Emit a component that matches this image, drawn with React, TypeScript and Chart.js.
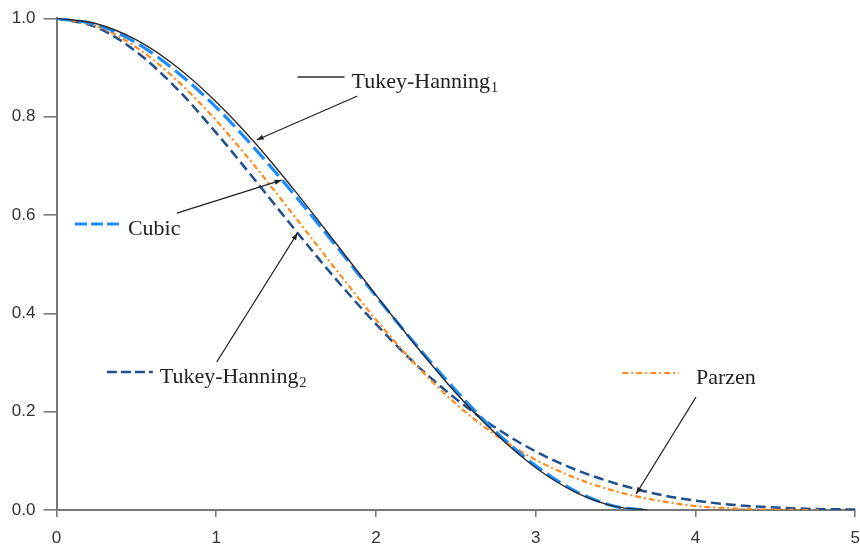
import { useEffect, useRef } from "react";
import { Chart, registerables } from "chart.js";

Chart.register(...registerables);

// ---- data ----
const xTH1 = [0, 0.25, 0.5, 0.75, 1, 1.25, 1.5, 1.75, 2, 2.25, 2.5, 2.75, 3, 3.25, 3.5, 3.7];
const yTH1 = [1, 0.989, 0.956, 0.902, 0.83, 0.744, 0.646, 0.542, 0.437, 0.334, 0.238, 0.155, 0.086, 0.036, 0.007, 0];

const xCubic = [0, 0.25, 0.5, 0.75, 1, 1.25, 1.5, 1.75, 2, 2.25, 2.5, 2.75, 3, 3.25, 3.5, 3.68];
const yCubic = [1, 0.987, 0.95, 0.892, 0.819, 0.732, 0.637, 0.537, 0.435, 0.336, 0.243, 0.159, 0.09, 0.038, 0.007, 0];

const xParzen = [0, 0.25, 0.5, 0.75, 1, 1.25, 1.5, 1.75, 2, 2.25, 2.5, 2.75, 3, 3.25, 3.5, 3.75, 4, 4.25, 4.5, 4.77];
const yParzen = [1, 0.984, 0.941, 0.875, 0.792, 0.696, 0.593, 0.489, 0.387, 0.295, 0.216, 0.152, 0.102, 0.065, 0.038, 0.02, 0.008, 0.003, 0.0004, 0];

const xTH2 = [0, 0.25, 0.5, 0.75, 1, 1.25, 1.5, 1.75, 2, 2.25, 2.5, 2.75, 3, 3.25, 3.5, 3.75, 4, 4.25, 4.5, 4.75, 5];
const yTH2 = [1, 0.982, 0.932, 0.858, 0.767, 0.668, 0.567, 0.469, 0.378, 0.296, 0.226, 0.167, 0.119, 0.082, 0.054, 0.033, 0.019, 0.01, 0.005, 0.002, 0.001];

const xTicks = [0, 1, 2, 3, 4, 5];
const yTicks = [0, 0.2, 0.4, 0.6, 0.8, 1.0];

const seriesNames = ["Tukey-Hanning", "Cubic", "Parzen", "Tukey-Hanning"];
const seriesSubs = ["1", "", "", "2"];

const COLORS = {
  th1: "#2b2b2b",
  cubic: "#1a8cff",
  parzen: "#ff8a1e",
  th2: "#1f4f8f",
};

const zip = (xs: number[], ys: number[]) => xs.map((x, i) => ({ x, y: ys[i] }));

type Ann = {
  name: string;
  sub: string;
  color: string;
  dash: number[];
  width: number;
  sx0: number;
  sx1: number;
  sy: number;
  tx: number;
  ty: number;
  ax0: number;
  ay0: number;
  ax1: number;
  ay1: number;
};

// annotation placement in data coordinates
const annotations: Ann[] = [
  { name: seriesNames[0], sub: seriesSubs[0], color: COLORS.th1, dash: [], width: 1.4,
    sx0: 1.509, sx1: 1.803, sy: 0.8806, tx: 1.847, ty: 0.858,
    ax0: 1.884, ay0: 0.842, ax1: 1.253, ay1: 0.7525 },
  { name: seriesNames[1], sub: seriesSubs[1], color: COLORS.cubic, dash: [12, 4], width: 3,
    sx0: 0.1156, sx1: 0.409, sy: 0.5817, tx: 0.447, ty: 0.559,
    ax0: 0.753, ay0: 0.604, ax1: 1.409, ay1: 0.671 },
  { name: seriesNames[2], sub: seriesSubs[2], color: COLORS.parzen, dash: [6, 3, 2, 3], width: 2.2,
    sx0: 3.541, sx1: 3.897, sy: 0.2786, tx: 4.003, ty: 0.256,
    ax0: 4.003, ay0: 0.2298, ax1: 3.628, ay1: 0.0325 },
  { name: seriesNames[3], sub: seriesSubs[3], color: COLORS.th2, dash: [10, 4], width: 2.5,
    sx0: 0.3156, sx1: 0.603, sy: 0.2807, tx: 0.647, ty: 0.258,
    ax0: 1.003, ay0: 0.301, ax1: 1.509, ay1: 0.5634 },
];

const SERIF = '"Liberation Serif", "Times New Roman", serif';
const SANS = '"Liberation Sans", Arial, sans-serif';

const annotationPlugin = {
  id: "kernelAnnotations",
  afterDatasetsDraw(chart: any) {
    const ctx = chart.ctx as CanvasRenderingContext2D;
    const xs = chart.scales.x;
    const ys = chart.scales.y;
    ctx.save();
    for (const a of annotations) {
      // legend sample line
      ctx.beginPath();
      ctx.setLineDash(a.dash);
      ctx.strokeStyle = a.color;
      ctx.lineWidth = a.width;
      ctx.moveTo(xs.getPixelForValue(a.sx0), ys.getPixelForValue(a.sy));
      ctx.lineTo(xs.getPixelForValue(a.sx1), ys.getPixelForValue(a.sy));
      ctx.stroke();
      ctx.setLineDash([]);

      // label text
      const tx = xs.getPixelForValue(a.tx);
      const ty = ys.getPixelForValue(a.ty);
      ctx.fillStyle = "#222";
      ctx.textBaseline = "alphabetic";
      ctx.textAlign = "left";
      ctx.font = `22px ${SERIF}`;
      ctx.fillText(a.name, tx, ty);
      if (a.sub) {
        const w = ctx.measureText(a.name).width;
        ctx.font = `14px ${SERIF}`;
        ctx.fillText(a.sub, tx + w + 1, ty + 4);
      }

      // arrow
      const x0 = xs.getPixelForValue(a.ax0);
      const y0 = ys.getPixelForValue(a.ay0);
      const x1 = xs.getPixelForValue(a.ax1);
      const y1 = ys.getPixelForValue(a.ay1);
      ctx.strokeStyle = "#222";
      ctx.lineWidth = 1.3;
      ctx.beginPath();
      ctx.moveTo(x0, y0);
      ctx.lineTo(x1, y1);
      ctx.stroke();
      const ang = Math.atan2(y1 - y0, x1 - x0);
      const len = 7;
      const hw = 2.6;
      ctx.fillStyle = "#222";
      ctx.beginPath();
      ctx.moveTo(x1, y1);
      ctx.lineTo(x1 - len * Math.cos(ang) + hw * Math.sin(ang), y1 - len * Math.sin(ang) - hw * Math.cos(ang));
      ctx.lineTo(x1 - len * Math.cos(ang) - hw * Math.sin(ang), y1 - len * Math.sin(ang) + hw * Math.cos(ang));
      ctx.closePath();
      ctx.fill();
    }
    ctx.restore();
  },
};

export default function App() {
  const ref = useRef<HTMLCanvasElement | null>(null);

  useEffect(() => {
    if (!ref.current) return;
    const axisColor = "#777";
    const chart = new Chart(ref.current, {
      type: "line",
      data: {
        datasets: [
          { label: "Tukey-Hanning1", data: zip(xTH1, yTH1), borderColor: COLORS.th1, borderWidth: 1.4, order: 0 },
          { label: "Cubic", data: zip(xCubic, yCubic), borderColor: COLORS.cubic, borderWidth: 3.2, borderDash: [16, 6], order: 1 },
          { label: "Parzen", data: zip(xParzen, yParzen), borderColor: COLORS.parzen, borderWidth: 2.2, borderDash: [6, 3, 2, 3], order: 2 },
          { label: "Tukey-Hanning2", data: zip(xTH2, yTH2), borderColor: COLORS.th2, borderWidth: 2.5, borderDash: [10, 5], order: 3 },
        ] as any,
      },
      options: {
        responsive: false,
        animation: false,
        devicePixelRatio: 1,
        layout: { padding: { left: 0, right: 3.5, top: 18.3, bottom: 0 } },
        elements: {
          point: { radius: 0 },
          line: { cubicInterpolationMode: "monotone", fill: false },
        },
        plugins: { legend: { display: false }, tooltip: { enabled: false } },
        scales: {
          x: {
            type: "linear",
            min: 0,
            max: 5,
            afterFit: (s: any) => { s.height = 34; },
            afterBuildTicks: (s: any) => { s.ticks = xTicks.map((v) => ({ value: v })); },
            ticks: {
              color: "#333",
              font: { family: SANS, size: 17 },
              padding: 11,
              maxRotation: 0,
              autoSkip: false,
              callback: (v: any) => String(v),
            },
            grid: { drawOnChartArea: false, drawTicks: true, tickLength: 7, color: axisColor, lineWidth: 1.6 },
            border: { display: true, color: axisColor, width: 2 },
          },
          y: {
            type: "linear",
            min: 0,
            max: 1,
            afterFit: (s: any) => { s.width = 56.5; },
            afterBuildTicks: (s: any) => { s.ticks = yTicks.map((v) => ({ value: v })); },
            ticks: {
              color: "#333",
              font: { family: SANS, size: 17 },
              padding: 8,
              callback: (v: any) => Number(v).toFixed(1),
            },
            grid: { drawOnChartArea: false, drawTicks: true, tickLength: 13, color: axisColor, lineWidth: 1.6 },
            border: { display: true, color: axisColor, width: 2 },
          },
        },
      } as any,
      plugins: [annotationPlugin],
    });
    return () => chart.destroy();
  }, []);

  return (
    <div style={{ position: "fixed", left: 0, top: 0, width: 860, height: 544, overflow: "hidden", background: "#fff" }}>
      <canvas ref={ref} width={871} height={544} style={{ display: "block" }} />
    </div>
  );
}
